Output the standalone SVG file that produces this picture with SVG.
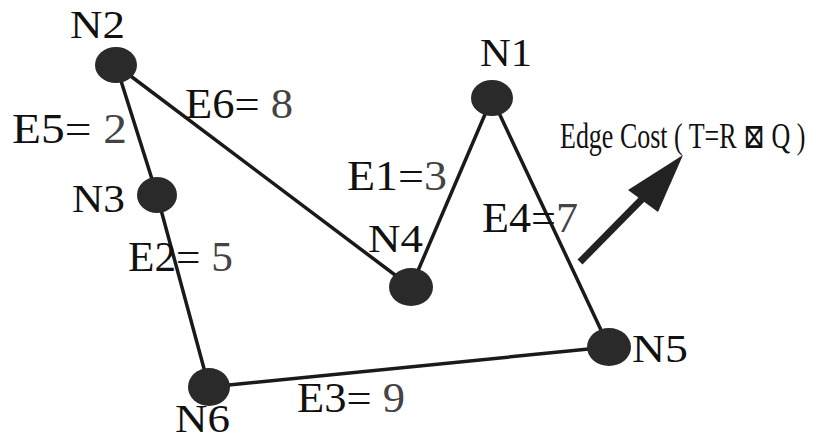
<svg xmlns="http://www.w3.org/2000/svg" width="816" height="441" viewBox="0 0 816 441">
<style>
.node{fill:#2a2a2a}
.edge{stroke:#1a1a1a;stroke-width:3.5;fill:none;stroke-linecap:round}
.lbl{font-family:"Liberation Serif","Times New Roman",serif;font-size:39px;fill:#111}
.el{font-family:"Liberation Serif","Times New Roman",serif;font-size:42px;fill:#111}
.num{fill:#444}
</style>
<rect width="816" height="441" fill="#fff"/>
<g id="connectors">
<line class="edge" x1="116" y1="65" x2="157" y2="195"/>
<line class="edge" x1="116" y1="65" x2="411" y2="287"/>
<line class="edge" x1="492" y1="98" x2="411" y2="287"/>
<line class="edge" x1="492" y1="98" x2="609" y2="347"/>
<line class="edge" x1="157" y1="195" x2="209" y2="387"/>
<line class="edge" x1="209" y1="387" x2="609" y2="347"/>
</g>
<g id="N1"><ellipse class="node" cx="492" cy="98" rx="21" ry="18"/><text class="lbl" x="480" y="66" textLength="52" lengthAdjust="spacingAndGlyphs">N1</text></g>
<g id="N2"><ellipse class="node" cx="116" cy="65" rx="21" ry="18"/><text class="lbl" x="70" y="38" textLength="55" lengthAdjust="spacingAndGlyphs">N2</text></g>
<g id="N3"><ellipse class="node" cx="157" cy="195" rx="20" ry="18"/><text class="lbl" x="72" y="212" textLength="53" lengthAdjust="spacingAndGlyphs">N3</text></g>
<g id="N4"><ellipse class="node" cx="411" cy="287" rx="22" ry="19"/><text class="lbl" x="368" y="252" textLength="55" lengthAdjust="spacingAndGlyphs">N4</text></g>
<g id="N5"><ellipse class="node" cx="609" cy="347" rx="22" ry="19"/><text class="lbl" x="632" y="362" textLength="56" lengthAdjust="spacingAndGlyphs">N5</text></g>
<g id="N6"><ellipse class="node" cx="209" cy="387" rx="21" ry="19"/><text class="lbl" x="175" y="432" textLength="55" lengthAdjust="spacingAndGlyphs">N6</text></g>
<g id="edge-labels">
<text class="el" x="12" y="143" textLength="115" lengthAdjust="spacingAndGlyphs">E5= <tspan class="num">2</tspan></text>
<text class="el" x="185" y="118" textLength="108" lengthAdjust="spacingAndGlyphs">E6= <tspan class="num">8</tspan></text>
<text class="el" x="347" y="190" textLength="100" lengthAdjust="spacingAndGlyphs">E1=<tspan class="num">3</tspan></text>
<text class="el" x="482" y="232" textLength="96" lengthAdjust="spacingAndGlyphs">E4=<tspan class="num">7</tspan></text>
<text class="el" x="128" y="271" textLength="105" lengthAdjust="spacingAndGlyphs">E2= <tspan class="num">5</tspan></text>
<text class="el" x="297" y="412" textLength="108" lengthAdjust="spacingAndGlyphs">E3= <tspan class="num">9</tspan></text>
</g>
<g id="legend">
<line x1="580" y1="262" x2="645" y2="196" stroke="#222" stroke-width="7"/>
<polygon points="683,155 628,190 658,212" fill="#222"/>
<text transform="translate(560,148) scale(1,1.35)" x="0" y="0" font-family="'Liberation Serif','DejaVu Serif',serif" font-size="26" fill="#111">Edge Cost ( T=R ⊠ Q )</text>
</g>
</svg>
